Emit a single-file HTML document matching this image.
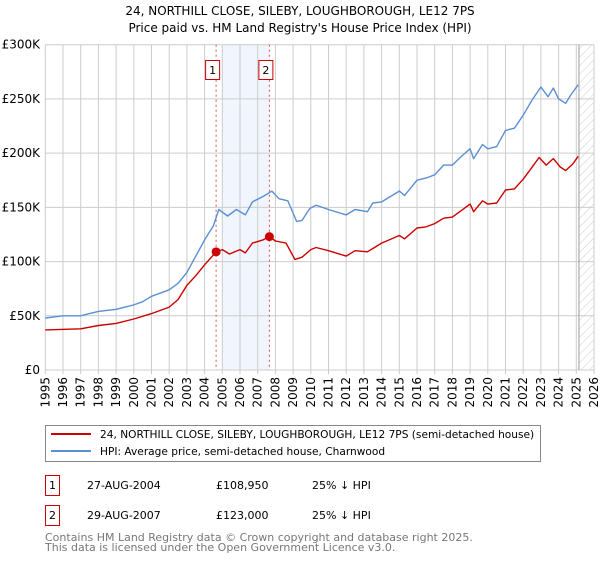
<!DOCTYPE html>
<html><head><meta charset="utf-8"><style>
body{margin:0;background:#fff;font-family:"DejaVu Sans","Liberation Sans",sans-serif;}
svg text{font-family:"DejaVu Sans","Liberation Sans",sans-serif;}
</style></head><body>
<svg id="c" width="600" height="560" xmlns="http://www.w3.org/2000/svg">
<text x="300" y="15" text-anchor="middle" font-size="12">24, NORTHILL CLOSE, SILEBY, LOUGHBOROUGH, LE12 7PS</text>
<text x="300" y="32" text-anchor="middle" font-size="12">Price paid vs. HM Land Registry's House Price Index (HPI)</text>
<g id="plot"></g>
<g>
<rect x="45.5" y="425.5" width="495" height="36" fill="#fff" stroke="#888"/>
<line x1="51" y1="434" x2="91" y2="434" stroke="#cc0000" stroke-width="2"/>
<text x="100" y="438" font-size="10.6">24, NORTHILL CLOSE, SILEBY, LOUGHBOROUGH, LE12 7PS (semi-detached house)</text>
<line x1="51" y1="451" x2="91" y2="451" stroke="#5b8fd4" stroke-width="2"/>
<text x="100" y="455" font-size="10.6">HPI: Average price, semi-detached house, Charnwood</text>
</g>
<g font-size="11">
<rect x="45.5" y="475.5" width="14" height="20" fill="#fff" stroke="#cc0000"/>
<text x="52.5" y="489" text-anchor="middle">1</text>
<text x="87" y="489">27-AUG-2004</text>
<text x="216" y="489">£108,950</text>
<text x="312" y="489">25% ↓ HPI</text>
<rect x="45.5" y="505.5" width="14" height="20" fill="#fff" stroke="#cc0000"/>
<text x="52.5" y="519" text-anchor="middle">2</text>
<text x="87" y="519">29-AUG-2007</text>
<text x="216" y="519">£123,000</text>
<text x="312" y="519">25% ↓ HPI</text>
</g>
<text x="45" y="541" font-size="11" fill="#777">Contains HM Land Registry data © Crown copyright and database right 2025.</text>
<text x="45" y="551" font-size="11" fill="#777">This data is licensed under the Open Government Licence v3.0.</text>
</svg>
<script>
const hpiYears=[1995,1996,1997,1997.5,1998,1999,2000,2000.5,2001,2002,2002.5,2003,2003.5,2004,2004.5,2004.8,2005.3,2005.8,2006.3,2006.7,2007.3,2007.8,2008.2,2008.7,2009.2,2009.5,2009.95,2010.3,2011,2012,2012.5,2013.2,2013.5,2014,2015,2015.3,2016,2016.5,2017,2017.5,2018,2018.5,2019,2019.2,2019.7,2020,2020.5,2021,2021.5,2022,2022.5,2023,2023.4,2023.7,2024,2024.4,2024.7,2025.1];
const hpiValues=[48,50,50,52,54,56,60,63,68,74,80,90,105,120,133,148,142,148,143,155,160,165,158,156,137,138,149,152,148,143,148,146,154,155,165,161,175,177,180,189,189,197,204,195,208,204,206,221,223,235,249,261,252,260,250,246,254,263];
const propYears=[1995,1997,1998,1999,2000,2001,2002,2002.5,2003,2003.5,2004,2004.65,2005,2005.4,2006,2006.3,2006.7,2007.3,2007.66,2008,2008.6,2009.1,2009.5,2010,2010.3,2011,2012,2012.5,2013.2,2013.6,2014,2015,2015.3,2016,2016.5,2017,2017.5,2018,2018.5,2019,2019.2,2019.7,2020,2020.5,2021,2021.5,2022,2022.5,2022.9,2023.3,2023.7,2024.1,2024.4,2024.8,2025.1];
const propValues=[37,38,41,43,47,52,58,65,78,87,97,108.95,111,107,111,108,117,120,123,119,117,102,104,111,113,110,105,110,109,113,117,124,121,131,132,135,140,141,147,153,146,156,153,154,166,167,176,187,196,189,195,187,184,190,197];
const saleYears=[2004.65,2007.66];
const saleValues=[108.95,123];
const saleLabels=["1","2"];
const yTicks=[0,50,100,150,200,250,300];
const yTickLabels=["£0","£50K","£100K","£150K","£200K","£250K","£300K"];
const xTicks=[1995,1996,1997,1998,1999,2000,2001,2002,2003,2004,2005,2006,2007,2008,2009,2010,2011,2012,2013,2014,2015,2016,2017,2018,2019,2020,2021,2022,2023,2024,2025,2026];

const X0=45.3,X1=594,Y0=370,Y1=44.7;
const xs=y=>X0+(y-1995)/(2026-1995)*(X1-X0);
const ys=v=>Y0-v/300*(Y0-Y1);
const NS="http://www.w3.org/2000/svg";
const g=document.getElementById('plot');
function mk(t,a,p){const e=document.createElementNS(NS,t);for(const k in a)e.setAttribute(k,a[k]);(p||g).appendChild(e);return e;}

const defs=mk('defs',{});
const pat=mk('pattern',{id:'hatch',width:6,height:6,patternUnits:'userSpaceOnUse',patternTransform:'rotate(45)'},defs);
mk('line',{x1:0,y1:0,x2:0,y2:6,stroke:'#ccc','stroke-width':1},pat);

let e=mk('rect',{x:xs(2005.0),y:Y1,width:xs(2007.66)-xs(2005.0),height:Y0-Y1,fill:'#eef3fc',opacity:0.8});



xTicks.forEach(t=>{
 const l=mk('line',{x1:xs(t),x2:xs(t),y1:Y1,y2:Y0+4,stroke:'#ccc','stroke-width':1});
 
 
 const tx=mk('text',{x:0,y:0,'font-size':12,'text-anchor':'end',transform:`translate(${xs(t)+4},${Y0+7}) rotate(-90)`});
 tx.textContent=t;
 
 
});
yTicks.forEach((t,i)=>{
 const l=mk('line',{x1:X0,x2:X1,y1:ys(t),y2:ys(t),stroke:'#ccc','stroke-width':1});
 
 
 const tx=mk('text',{x:40,y:ys(t)+4,'font-size':12,'text-anchor':'end'});
 tx.textContent=yTickLabels[i];
 
 
});
e=mk('rect',{x:xs(2025.15),y:Y1,width:X1-xs(2025.15),height:Y0-Y1,fill:'url(#hatch)'});


e=mk('line',{x1:xs(2025.15),x2:xs(2025.15),y1:Y1,y2:Y0,stroke:'#999','stroke-width':1});



saleYears.forEach((s,i)=>{
 const l=mk('line',{x1:xs(s),x2:xs(s),y1:Y1,y2:Y0,stroke:'#e05050','stroke-width':1,'stroke-dasharray':'2,3'});
 
 
 const r=mk('rect',{x:xs(s)-10.5,y:60.5,width:14,height:19,fill:'#fff',stroke:'#cc0000'});
 
 
 const t=mk('text',{x:xs(s)-3.5,y:74,'font-size':11,'text-anchor':'middle'});
 t.textContent=saleLabels[i];
 
 
});

function line(xa,va,color,name){
 const d=xa.map((x,i)=>(i?'L':'M')+xs(x).toFixed(1)+','+ys(va[i]).toFixed(1)).join('');
 const p=mk('path',{d:d,fill:'none',stroke:color,'stroke-width':1.4,'stroke-linejoin':'round'});
 
 
}
line(hpiYears,hpiValues,'#5b8fd4','hpi-line');
line(propYears,propValues,'#cc0000','property-line');
saleYears.forEach((s,i)=>{
 const c=mk('circle',{cx:xs(s),cy:ys(saleValues[i]),r:4.5,fill:'#cc0000'});
 
 
});
</script>
</body></html>
